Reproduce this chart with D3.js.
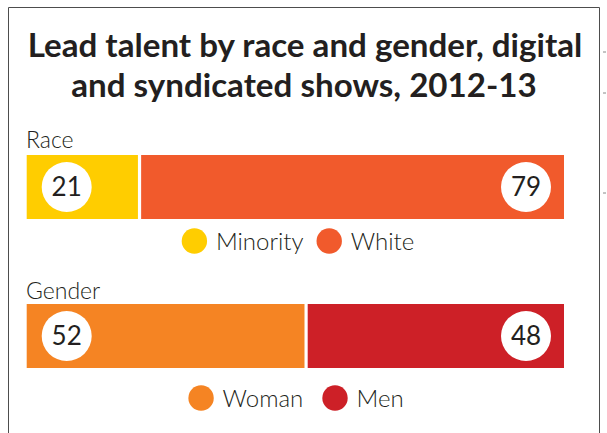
<!DOCTYPE html>
<html>
<head>
<meta charset="utf-8">
<script src="https://cdn.jsdelivr.net/npm/d3@7"></script>
<style>
  html, body { margin: 0; padding: 0; background: #fff; }
  svg { display: block; }
</style>
</head>
<body>
<svg id="chart" width="607" height="433"></svg>
<script>
// Share of lead talent (percent), digital and syndicated shows, 2012-13
const titleLines = ["Lead talent by race and gender, digital", "and syndicated shows, 2012-13"];
const groupNames = ["Race", "Gender"];
const raceCategories = ["Minority", "White"];
const raceValues = [21, 79];
const genderCategories = ["Woman", "Men"];
const genderValues = [52, 48];
const raceColors = ["#FFCD00", "#F15A2C"];
const genderColors = ["#F58423", "#CD2027"];

const groups = [
  { name: groupNames[0], cats: raceCategories, vals: raceValues, colors: raceColors, labelY: 148, barTop: 155, legendY: 241, legendGap: 13, legendMid: 298 },
  { name: groupNames[1], cats: genderCategories, vals: genderValues, colors: genderColors, labelY: 299, barTop: 304, legendY: 398, legendGap: 19, legendMid: 296 }
];

const svg = d3.select("#chart");
const ink = "#231F20";
const titleFont = "Lato, 'Open Sans', sans-serif";
const bodyFont = "Lato, 'Open Sans', sans-serif";

// frame
svg.append("path")
  .attr("d", "M8.5,440 V7.5 H599.5 V440")
  .attr("fill", "none")
  .attr("stroke", "#4d4d4d")
  .attr("stroke-width", 1);

// title, sized so the first line spans the frame's inner width
const title = svg.append("g");
const t1 = title.append("text")
  .attr("x", 305).attr("y", 57)
  .attr("text-anchor", "middle")
  .attr("font-family", titleFont).attr("font-weight", 700)
  .attr("font-size", 28).attr("fill", ink)
  .text(titleLines[0]);
const w0 = t1.node().getComputedTextLength();
const titleSize = 28 * 555 / w0;
t1.attr("font-size", titleSize);
title.append("text")
  .attr("x", 304).attr("y", 97)
  .attr("text-anchor", "middle")
  .attr("font-family", titleFont).attr("font-weight", 700)
  .attr("font-size", titleSize).attr("fill", ink)
  .text(titleLines[1]);

const x = d3.scaleLinear().domain([0, 100]).range([26.7, 564]);
const barH = 64;
const dotR = 12.7;
const dotGap = 21.5;

groups.forEach(g => {
  const stack = [];
  let acc = 0;
  g.vals.forEach((v, i) => { stack.push({ cat: g.cats[i], v, x0: acc, x1: acc + v, color: g.colors[i], i }); acc += v; });

  svg.append("text")
    .attr("x", 26).attr("y", g.labelY)
    .attr("font-family", bodyFont).attr("font-weight", 300)
    .attr("font-size", 23).attr("fill", ink)
    .text(g.name);

  const bars = svg.append("g");
  bars.selectAll("rect").data(stack).join("rect")
    .attr("x", d => x(d.x0)).attr("y", g.barTop)
    .attr("width", d => x(d.x1) - x(d.x0)).attr("height", barH)
    .attr("fill", d => d.color);

  // white divider between segments
  bars.selectAll("line").data(stack.slice(1)).join("line")
    .attr("x1", d => x(d.x0)).attr("x2", d => x(d.x0))
    .attr("y1", g.barTop).attr("y2", g.barTop + barH)
    .attr("stroke", "#fff").attr("stroke-width", 3.2);

  // value badges: first near left end, last near right end
  const cy = g.barTop + barH / 2;
  const badges = svg.append("g").selectAll("g").data(stack).join("g")
    .attr("transform", d => `translate(${d.i === 0 ? x(0) + 40 : x(100) - 38},${cy})`);
  badges.append("circle").attr("r", 25).attr("fill", "#fff");
  badges.append("text")
    .attr("text-anchor", "middle").attr("dy", "0.36em")
    .attr("font-family", bodyFont).attr("font-weight", 400)
    .attr("font-size", 26).attr("fill", ink)
    .text(d => d.v);

  // legend, centred under the bar
  const leg = svg.append("g");
  const items = leg.selectAll("g").data(stack).join("g");
  items.append("circle").attr("r", dotR).attr("fill", d => d.color);
  items.append("text")
    .attr("x", dotGap).attr("dy", "0.36em")
    .attr("font-family", bodyFont).attr("font-weight", 300)
    .attr("font-size", 24).attr("fill", ink)
    .text(d => d.cat);
  let cx = 0;
  const pos = [];
  items.each(function () {
    const tw = d3.select(this).select("text").node().getComputedTextLength();
    pos.push(cx);
    cx += dotR + dotGap + tw + g.legendGap;
  });
  const total = cx - g.legendGap;
  const start = g.legendMid - total / 2 + dotR;
  items.attr("transform", (d, i) => `translate(${start + pos[i]},${g.legendY})`);
});

// edge marks of the neighbouring panel
svg.append("g").selectAll("line").data([52, 93, 193]).join("line")
  .attr("x1", 603).attr("x2", 606)
  .attr("y1", d => d).attr("y2", d => d)
  .attr("stroke", "#888").attr("stroke-width", 1);
</script>
</body>
</html>
